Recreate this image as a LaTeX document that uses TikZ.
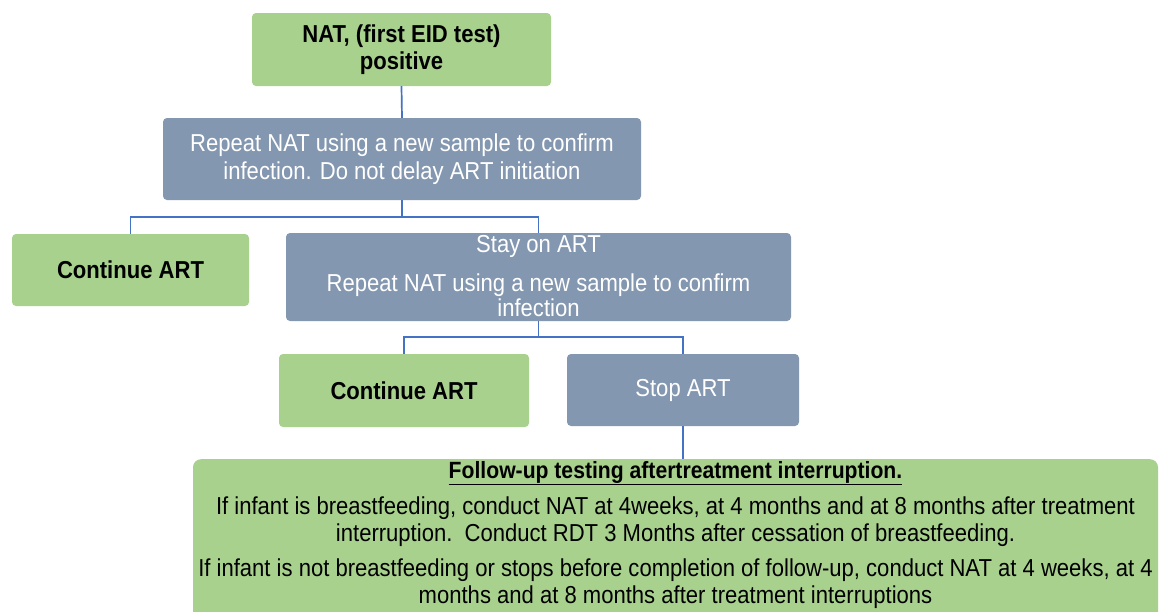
\documentclass[tikz,border=0pt]{standalone}
\usepackage{fontspec}
\setmainfont[FakeStretch=0.90]{Liberation Sans}
\definecolor{boxgreen}{HTML}{A9D18E}
\definecolor{boxblue}{HTML}{8497B0}
\definecolor{linkblue}{HTML}{4472C4}
\tikzset{
  gbox/.style={fill=boxgreen, rounded corners=4pt, inner sep=0pt, align=center, font=\fontsize{24.5}{27}\selectfont\bfseries},
  bbox/.style={fill=boxblue, rounded corners=4pt, inner sep=0pt, align=center, text=white, font=\fontsize{24.5}{28}\selectfont},
  link/.style={draw=linkblue, line width=1.7pt},
}
\begin{document}
\begin{tikzpicture}[x=1pt,y=-1pt]
\useasboundingbox (0,0) rectangle (1160,611);
\fill[white] (0,0) rectangle (1160,611);
\node[gbox, minimum width=299pt, minimum height=73pt] (top) at (401.5,49.5) {NAT, (first EID test)\\positive};
\node[bbox, minimum width=478pt, minimum height=82pt] (rep) at (402,159) {Repeat NAT using a new sample to confirm\\infection. Do not delay ART initiation};
\node[gbox, minimum width=237pt, minimum height=72pt] (cont1) at (130.5,270) {Continue ART};
\node[bbox, minimum width=505pt, minimum height=88pt] (stay) at (538.5,277) {};
\node[text=white, align=center, inner sep=0pt, font=\fontsize{24.5}{25}\selectfont, anchor=north] (staytxt) at (538.5,235) {Stay on ART\\[14pt]Repeat NAT using a new sample to confirm\\infection};
\node[gbox, minimum width=250pt, minimum height=73pt] (cont2) at (404,390.5) {Continue ART};
\node[bbox, minimum width=232pt, minimum height=72pt] (stop) at (683,390) {Stop ART};
\begin{scope}
\clip (0,0) rectangle (1160,611);
\node[fill=boxgreen, rounded corners=8pt, minimum width=965pt, minimum height=170pt, anchor=north, inner sep=0pt] (fb) at (675.5,459) {};
\end{scope}
\node[anchor=north, align=center, inner sep=0pt, font=\fontsize{24.5}{27}\selectfont] (fbtxt) at (675.5,461) {{\fontsize{23.5}{27}\selectfont\textbf{\underline{Follow-up testing aftertreatment interruption.}}}\\[9pt]
If infant is breastfeeding, conduct NAT at 4weeks, at 4 months and at 8 months after treatment\\
interruption.\ \ Conduct RDT 3 Months after cessation of breastfeeding.\\[8pt]
If infant is not breastfeeding or stops before completion of follow-up, conduct NAT at 4 weeks, at 4\\
months and at 8 months after treatment interruptions};
\draw[link] (top.south) -- (rep.north);
\draw[link] (rep.south) -- ++(0,17) -| (cont1.north);
\draw[link] (rep.south) -- ++(0,17) -| (stay.north);
\draw[link] (stay.south) -- ++(0,16) -| (cont2.north);
\draw[link] (stay.south) -- ++(0,16) -| (stop.north);
\draw[link] (stop.south) -- (fb.north -| stop.south);
\end{tikzpicture}
\end{document}
